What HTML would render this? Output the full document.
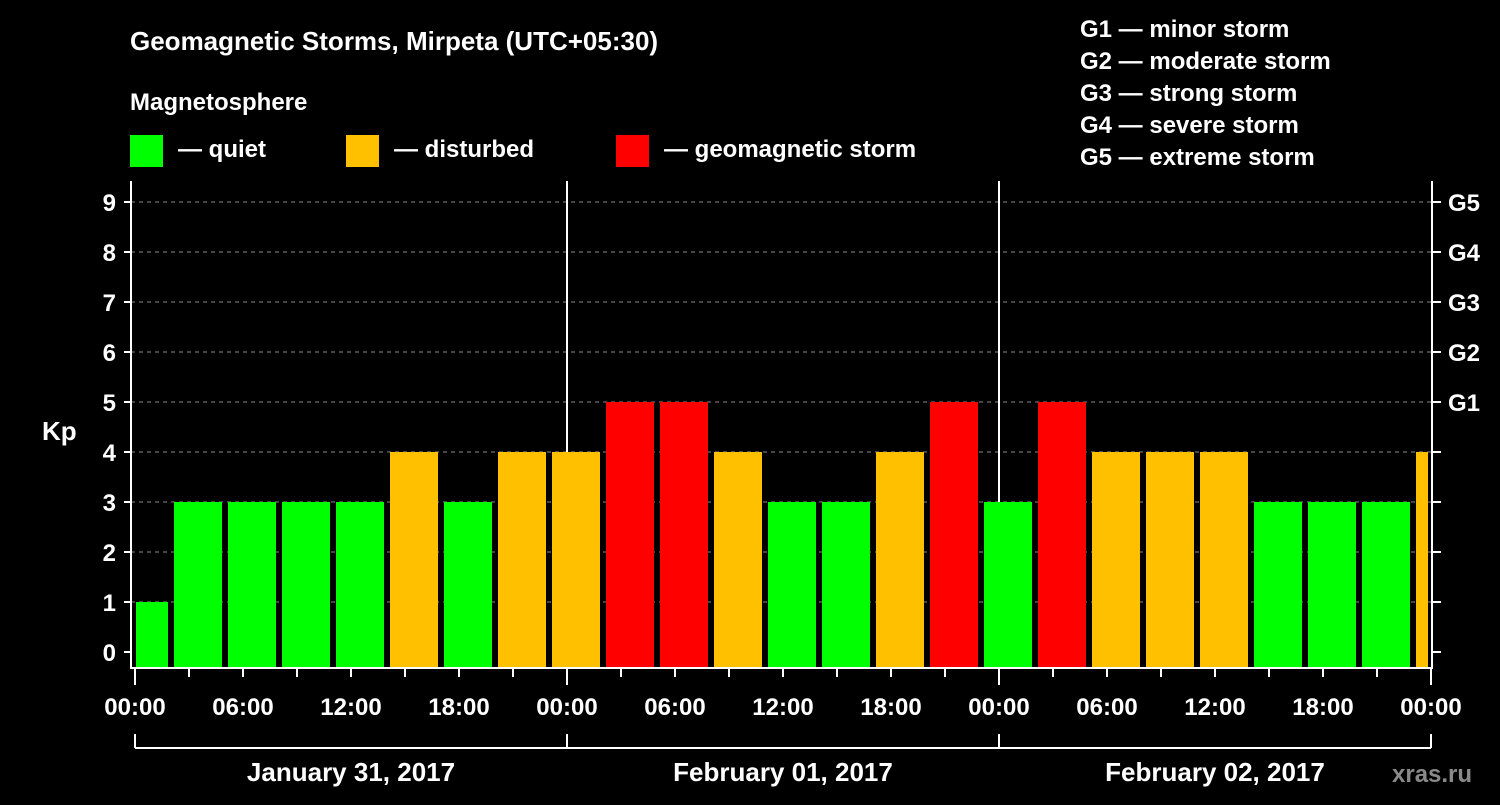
<!DOCTYPE html>
<html><head><meta charset="utf-8"><style>
body{margin:0;background:#000;width:1500px;height:800px;overflow:hidden}
svg text{font-family:"Liberation Sans",Arial,sans-serif;font-weight:bold;fill:#fff}
</style></head><body>
<svg id="c" width="1500" height="800">
<text x="130" y="50" font-size="26">Geomagnetic Storms, Mirpeta (UTC+05:30)</text>
<text x="130" y="110" font-size="24">Magnetosphere</text>
<rect x="130" y="135" width="33" height="32" fill="#00ff00"/>
<text x="178" y="157" font-size="24">— quiet</text>
<rect x="346" y="135" width="33" height="32" fill="#ffc000"/>
<text x="394" y="157" font-size="24">— disturbed</text>
<rect x="616" y="135" width="33" height="32" fill="#ff0000"/>
<text x="664" y="157" font-size="24">— geomagnetic storm</text>
<g font-size="24">
<text x="1080" y="37">G1 — minor storm</text>
<text x="1080" y="69">G2 — moderate storm</text>
<text x="1080" y="101">G3 — strong storm</text>
<text x="1080" y="133">G4 — severe storm</text>
<text x="1080" y="165">G5 — extreme storm</text>
</g>
<text x="42" y="440" font-size="26">Kp</text>
<text x="1392" y="782" font-size="24" fill="#888" style="fill:#8a8a8a">xras.ru</text>
<g id="grid"></g><g id="seps"></g><g id="bars"></g><g id="axes"></g>
</svg>
<script>
const kpValues=[1,3,3,3,3,4,3,4,4,5,5,4,3,3,4,5,3,5,4,4,4,3,3,3,4];
const binStartHours=[-1,2,5,8,11,14,17,20,23,26,29,32,35,38,41,44,47,50,53,56,59,62,65,68,71];
const yTicks=[0,1,2,3,4,5,6,7,8,9];
const gLabels=["","","","","","G1","G2","G3","G4","G5"];
const xTickLabels=["00:00","06:00","12:00","18:00","00:00","06:00","12:00","18:00","00:00","06:00","12:00","18:00","00:00"];
const dayLabels=["January 31, 2017","February 01, 2017","February 02, 2017"];
const NS="http://www.w3.org/2000/svg";
const X0=135,PX_H=18,Y0=652,PX_K=50,TOP=181,BOT=668,RIGHT=1432;
const x=h=>X0+h*PX_H, y=k=>Y0-k*PX_K;
function mk(tag,attrs,parent){const e=document.createElementNS(NS,tag);for(const k in attrs)e.setAttribute(k,attrs[k]);document.getElementById(parent).appendChild(e);return e;}
const col=v=>v>=5?"#ff0000":v>=4?"#ffc000":"#00ff00";
yTicks.forEach((k,i)=>{
 if(k>0){const g=mk("line",{x1:131,x2:RIGHT,y1:y(k),y2:y(k),stroke:"#888","stroke-dasharray":"4,4"},"grid");
 
 }
 const t=mk("line",{x1:124,x2:131,y1:y(k),y2:y(k),stroke:"#fff","stroke-width":2},"axes");
 
 
 const t2=mk("line",{x1:RIGHT,x2:RIGHT+9,y1:y(k),y2:y(k),stroke:"#fff","stroke-width":2},"axes");
 
 
 const l=mk("text",{x:116,y:y(k)+9,"font-size":24,"text-anchor":"end"},"axes");l.textContent=k;
 
 
 if(gLabels[i]){const g2=mk("text",{x:1448,y:y(k)+9,"font-size":24},"axes");g2.textContent=gLabels[i];
 
 }
});
[24,48].forEach(h=>{const s=mk("line",{x1:x(h),x2:x(h),y1:TOP,y2:BOT,stroke:"#fff","stroke-width":2},"seps");
 
 });
kpValues.forEach((v,i)=>{
 let a=x(binStartHours[i])+3,b=x(binStartHours[i]+3)-3;
 a=Math.max(a,136);b=Math.min(b,1428);
 const r=mk("rect",{x:a,y:y(v),width:b-a,height:BOT-1-y(v),fill:col(v)},"bars");
 
 
});
const fr=mk("path",{d:`M131 ${TOP} V${BOT} H${RIGHT} V${TOP}`,fill:"none",stroke:"#fff","stroke-width":2},"axes");


for(let h=0;h<=72;h+=3){const big=h%6===0;const t=mk("line",{x1:x(h),x2:x(h),y1:BOT,y2:BOT+(h%24===0?17:9),stroke:"#fff","stroke-width":2},"axes");
 
 }
xTickLabels.forEach((s,i)=>{const t=mk("text",{x:x(i*6),y:715,"font-size":24,"text-anchor":"middle"},"axes");t.textContent=s;
 
 });
const br=mk("line",{x1:x(0),x2:x(72),y1:748,y2:748,stroke:"#fff","stroke-width":2},"axes");


[0,24,48,72].forEach(h=>{const t=mk("line",{x1:x(h),x2:x(h),y1:734,y2:748,stroke:"#fff","stroke-width":2},"axes");
 
 });
dayLabels.forEach((s,i)=>{const t=mk("text",{x:x(i*24+12),y:781,"font-size":26,"text-anchor":"middle"},"axes");t.textContent=s;
 
 });
</script>
</body></html>
